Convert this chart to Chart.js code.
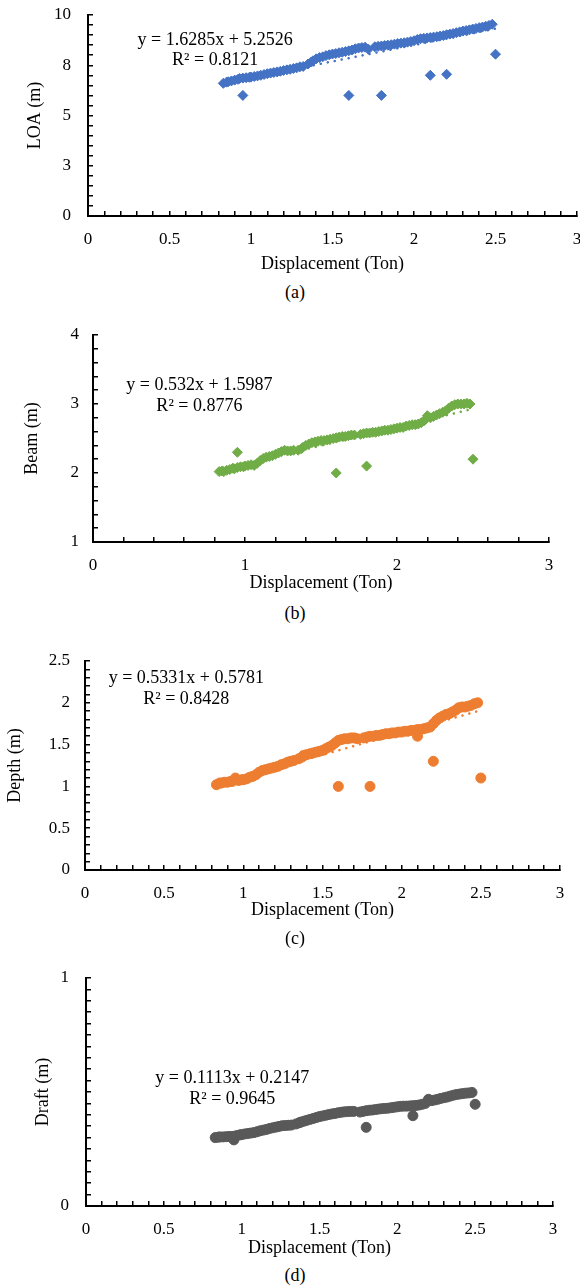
<!DOCTYPE html>
<html>
<head>
<meta charset="utf-8">
<script src="https://cdn.jsdelivr.net/npm/chart.js@4/dist/chart.umd.min.js"></script>
<style>
  body { margin: 0; width: 580px; height: 1285px; overflow: hidden; position: relative; background: #fff; }
  canvas { position: absolute; left: 0; }
  .cap { position: absolute; left: 0; width: 590px; text-align: center; font: 18px "Liberation Serif", "Times New Roman", serif; line-height: 20px; color: #000; }
</style>
</head>
<body>
<canvas id="chartA" width="590" height="280" style="top:0px"></canvas>
<canvas id="chartB" width="590" height="280" style="top:320px"></canvas>
<canvas id="chartC" width="590" height="290" style="top:640px"></canvas>
<canvas id="chartD" width="590" height="300" style="top:960px"></canvas>
<div class="cap" style="top:282px">(a)</div>
<div class="cap" style="top:603px">(b)</div>
<div class="cap" style="top:928px">(c)</div>
<div class="cap" style="top:1265px">(d)</div>
<script>
'use strict';

// displacement of the boats forming the main band (Ton)
const displacement = [
	0.83, 0.85, 0.86, 0.88, 0.90, 0.92, 0.93, 0.95, 0.97, 0.99,
	1.00, 1.02, 1.04, 1.06, 1.08, 1.10, 1.12, 1.14, 1.16, 1.18,
	1.20, 1.22, 1.24, 1.26, 1.28, 1.30, 1.32, 1.35, 1.37, 1.38,
	1.40, 1.42, 1.44, 1.46, 1.48, 1.50, 1.52, 1.54, 1.56, 1.58,
	1.60, 1.62, 1.64, 1.66, 1.68, 1.70, 1.72, 1.76, 1.78, 1.80,
	1.82, 1.84, 1.86, 1.88, 1.90, 1.92, 1.94, 1.96, 1.98, 2.00,
	2.02, 2.04, 2.06, 2.08, 2.10, 2.12, 2.14, 2.16, 2.18, 2.20,
	2.22, 2.24, 2.26, 2.28, 2.30, 2.32, 2.34, 2.36, 2.38, 2.40,
	2.42, 2.44, 2.46, 2.48,
];

const loa = [
	6.60, 6.66, 6.68, 6.72, 6.76, 6.80, 6.84, 6.86, 6.88, 6.90,
	6.91, 6.94, 6.97, 7.00, 7.04, 7.08, 7.11, 7.14, 7.17, 7.20,
	7.24, 7.27, 7.30, 7.34, 7.37, 7.42, 7.44, 7.56, 7.66, 7.72,
	7.82, 7.88, 7.92, 7.98, 8.02, 8.06, 8.08, 8.12, 8.15, 8.18,
	8.22, 8.26, 8.32, 8.36, 8.38, 8.40, 8.30, 8.42, 8.44, 8.46,
	8.48, 8.50, 8.52, 8.55, 8.58, 8.60, 8.62, 8.65, 8.68, 8.72,
	8.78, 8.82, 8.84, 8.86, 8.88, 8.90, 8.92, 8.95, 8.98, 9.02,
	9.05, 9.08, 9.12, 9.16, 9.20, 9.23, 9.26, 9.30, 9.33, 9.37,
	9.40, 9.44, 9.48, 9.54,
];

const beam = [
	2.02, 2.03, 2.02, 2.04, 2.05, 2.07, 2.06, 2.08, 2.09, 2.09,
	2.10, 2.11, 2.12, 2.11, 2.14, 2.18, 2.21, 2.23, 2.24, 2.25,
	2.27, 2.29, 2.31, 2.33, 2.32, 2.32, 2.33, 2.33, 2.35, 2.37,
	2.40, 2.42, 2.44, 2.45, 2.46, 2.47, 2.47, 2.48, 2.49, 2.50,
	2.51, 2.52, 2.53, 2.53, 2.54, 2.55, 2.55, 2.56, 2.57, 2.58,
	2.58, 2.59, 2.59, 2.60, 2.61, 2.62, 2.62, 2.63, 2.64, 2.65,
	2.66, 2.66, 2.68, 2.69, 2.70, 2.70, 2.71, 2.73, 2.76, 2.83,
	2.80, 2.82, 2.84, 2.86, 2.88, 2.90, 2.94, 2.97, 2.99, 3.00,
	3.00, 3.00, 3.01, 3.00,
];

const depth = [
	1.02, 1.04, 1.04, 1.05, 1.05, 1.06, 1.06, 1.10, 1.07, 1.08,
	1.08, 1.09, 1.11, 1.12, 1.14, 1.17, 1.19, 1.20, 1.21, 1.22,
	1.23, 1.24, 1.26, 1.27, 1.29, 1.30, 1.31, 1.33, 1.35, 1.37,
	1.38, 1.39, 1.40, 1.41, 1.42, 1.43, 1.45, 1.47, 1.49, 1.52,
	1.55, 1.56, 1.57, 1.57, 1.58, 1.58, 1.57, 1.58, 1.59, 1.60,
	1.60, 1.61, 1.61, 1.62, 1.63, 1.63, 1.64, 1.64, 1.65, 1.65,
	1.66, 1.66, 1.67, 1.67, 1.68, 1.68, 1.69, 1.70, 1.71, 1.75,
	1.79, 1.82, 1.84, 1.86, 1.87, 1.89, 1.91, 1.94, 1.95, 1.95,
	1.96, 1.97, 1.99, 2.00,
];

const draft = [
	0.300, 0.302, 0.303, 0.303, 0.304, 0.305, 0.304, 0.306, 0.309, 0.312,
	0.313, 0.316, 0.318, 0.320, 0.322, 0.326, 0.330, 0.333, 0.336, 0.340,
	0.343, 0.346, 0.349, 0.352, 0.353, 0.354, 0.355, 0.360, 0.365, 0.368,
	0.372, 0.376, 0.380, 0.384, 0.388, 0.392, 0.395, 0.398, 0.401, 0.404,
	0.406, 0.409, 0.411, 0.413, 0.414, 0.415, 0.415, 0.412, 0.415, 0.418,
	0.420, 0.421, 0.423, 0.425, 0.427, 0.428, 0.429, 0.431, 0.433, 0.435,
	0.437, 0.438, 0.438, 0.439, 0.440, 0.441, 0.443, 0.446, 0.450, 0.468,
	0.462, 0.465, 0.468, 0.472, 0.475, 0.478, 0.482, 0.486, 0.489, 0.491,
	0.493, 0.495, 0.496, 0.498,
];

// points lying off the band
const loaOutX = [0.95, 1.60, 1.80, 2.10, 2.20, 2.50];
const loaOutY = [6.00, 6.00, 6.00, 7.00, 7.05, 8.05];
const beamOutX = [0.95, 1.60, 1.80, 2.50];
const beamOutY = [2.30, 2.00, 2.10, 2.20];
const depthOutX = [1.60, 1.80, 2.10, 2.20, 2.50];
const depthOutY = [1.00, 1.00, 1.60, 1.30, 1.10];
const draftOutX = [0.95, 1.80, 2.10, 2.50];
const draftOutY = [0.290, 0.345, 0.396, 0.446];

// linear trendline end points
const trendX = [0.83, 2.50];
const loaTrend = [6.60, 9.32];
const beamTrend = [2.04, 2.93];
const depthTrend = [1.02, 1.91];
const draftTrend = [0.307, 0.493];

const equations = ['y = 1.6285x + 5.2526', 'y = 0.532x + 1.5987', 'y = 0.5331x + 0.5781', 'y = 0.1113x + 0.2147'];
const rSquared = ['R² = 0.8121', 'R² = 0.8776', 'R² = 0.8428', 'R² = 0.9645'];
const yTitles = ['LOA (m)', 'Beam (m)', 'Depth (m)', 'Draft (m)'];
const xTitle = 'Displacement (Ton)';

const FONT = '"Liberation Serif", "Times New Roman", serif';

const toPoints = (xs, ys) => xs.map((x, i) => ({ x: x, y: ys[i] }));
const isMajor = (v, step) => Math.abs(v / step - Math.round(v / step)) < 1e-6;

// writes the trendline equation inside the plot
const equationPlugin = {
	id: 'equation',
	afterDatasetsDraw(chart, args, opts) {
		const { ctx } = chart;
		const x = chart.scales.x;
		const y = chart.scales.y;
		ctx.save();
		ctx.font = '18px ' + FONT;
		ctx.fillStyle = '#000';
		ctx.textAlign = 'center';
		ctx.textBaseline = 'middle';
		opts.lines.forEach((line) => {
			ctx.fillText(line.text, x.getPixelForValue(line.x), y.getPixelForValue(line.y));
		});
		ctx.restore();
	},
};

const panels = [
	{
		id: 'chartA', top: 0, height: 280, area: { left: 88, top: 15, right: 577, bottom: 216 },
		color: '#4472C4', marker: 'rectRot', band: loa, outX: loaOutX, outY: loaOutY, trend: loaTrend,
		yMin: 0, yMax: 10, yStep: 0.5, yMajor: 2.5, yFmt: (v) => String(Math.round(v)),
		xStep: 0.1, xMajor: 0.5, titleGap: 48, yTitlePad: 24, yLabelPad: 22,
		eqX: 0.78, eqY: [8.76, 7.76], title: 0,
	},
	{
		id: 'chartB', top: 320, height: 280, area: { left: 93, top: 335, right: 549, bottom: 542 },
		color: '#70AD47', marker: 'rectRot', band: beam, outX: beamOutX, outY: beamOutY, trend: beamTrend,
		yMin: 1, yMax: 4, yStep: 0.2, yMajor: 1, yFmt: (v) => String(Math.round(v)),
		xStep: 0.2, xMajor: 1, titleGap: 41, yTitlePad: 21, yLabelPad: 19,
		eqX: 0.70, eqY: [3.275, 2.97], title: 1,
	},
	{
		id: 'chartC', top: 640, height: 290, area: { left: 85, top: 661, right: 560, bottom: 870 },
		color: '#ED7D31', marker: 'circle', band: depth, outX: depthOutX, outY: depthOutY, trend: depthTrend,
		yMin: 0, yMax: 2.5, yStep: 0.1, yMajor: 0.5, yFmt: (v) => String(Math.round(v * 10) / 10),
		xStep: 0.1, xMajor: 0.5, titleGap: 40, yTitlePad: 4, yLabelPad: 20,
		eqX: 0.64, eqY: [2.29, 2.045], title: 2,
	},
	{
		id: 'chartD', top: 960, height: 300, area: { left: 86, top: 978, right: 553, bottom: 1206 },
		color: '#595959', marker: 'circle', band: draft, outX: draftOutX, outY: draftOutY, trend: draftTrend,
		yMin: 0, yMax: 1, yStep: 0.05, yMajor: 1, yFmt: (v) => String(Math.round(v)),
		xStep: 0.1, xMajor: 0.5, titleGap: 42, yTitlePad: 32, yLabelPad: 22,
		eqX: 0.94, eqY: [0.561, 0.469], title: 3,
	},
];

const makePanel = (p) => {
	const a = p.area;
	const xHeight = p.titleGap + 10.8;
	const ctx = document.getElementById(p.id).getContext('2d');

	new Chart(ctx, {
		type: 'scatter',
		data: {
			datasets: [
				{
					label: 'trend',
					data: toPoints(trendX, p.trend),
					showLine: true,
					borderColor: p.color,
					borderWidth: 2.5,
					borderDash: [0.1, 7],
					borderCapStyle: 'round',
					pointRadius: 0,
					order: 2,
				},
				{
					label: 'band',
					data: toPoints(displacement, p.band),
					pointStyle: p.marker,
					pointRadius: 5,
					pointBorderWidth: 1,
					backgroundColor: p.color,
					borderColor: p.color,
					order: 1,
				},
				{
					label: 'outliers',
					data: toPoints(p.outX, p.outY),
					pointStyle: p.marker,
					pointRadius: 5,
					pointBorderWidth: 1,
					backgroundColor: p.color,
					borderColor: p.color,
					order: 1,
				},
			],
		},
		options: {
			responsive: false,
			animation: false,
			devicePixelRatio: 1,
			layout: {
				padding: {
					left: 0,
					top: a.top - p.top,
					right: 590 - a.right,
					bottom: p.height - (a.bottom - p.top) - xHeight,
				},
			},
			plugins: {
				legend: { display: false },
				tooltip: { enabled: false },
				equation: {
					lines: [
						{ text: equations[p.title], x: p.eqX, y: p.eqY[0] },
						{ text: rSquared[p.title], x: p.eqX, y: p.eqY[1] },
					],
				},
			},
			scales: {
				x: {
					type: 'linear',
					min: 0,
					max: 3,
					afterFit: (s) => {
						s.height = xHeight;
						s.paddingLeft = 0;
						s.paddingRight = 0;
					},
					border: { display: true, color: '#000', width: 2 },
					grid: { drawOnChartArea: false, color: '#000', lineWidth: 1.5, tickLength: -5 },
					ticks: {
						stepSize: p.xStep,
						autoSkip: false,
						maxRotation: 0,
						padding: 18,
						color: '#000',
						font: { family: FONT, size: 17 },
						callback: (v) => (isMajor(v, p.xMajor) ? String(Math.round(v * 10) / 10) : ''),
					},
					title: { display: true, text: xTitle, color: '#000', font: { family: FONT, size: 18 }, padding: 0 },
				},
				y: {
					type: 'linear',
					min: p.yMin,
					max: p.yMax,
					afterFit: (s) => {
						s.width = a.left;
						s.paddingTop = 0;
						s.paddingBottom = 0;
					},
					border: { display: true, color: '#000', width: 2 },
					grid: { drawOnChartArea: false, color: '#000', lineWidth: 1.5, tickLength: -5 },
					ticks: {
						stepSize: p.yStep,
						autoSkip: false,
						padding: p.yLabelPad,
						color: '#000',
						font: { family: FONT, size: 17 },
						callback: (v) => (isMajor(v, p.yMajor) ? p.yFmt(v) : ''),
					},
					title: {
						display: true,
						text: yTitles[p.title],
						color: '#000',
						font: { family: FONT, size: 18 },
						padding: { top: p.yTitlePad, bottom: 0 },
					},
				},
			},
		},
		plugins: [equationPlugin],
	});
};

window.addEventListener('DOMContentLoaded', () => {
	panels.forEach(makePanel);
});
</script>
</body>
</html>
